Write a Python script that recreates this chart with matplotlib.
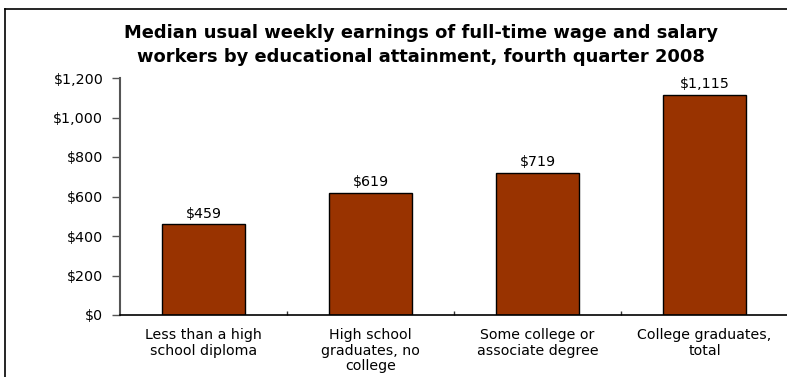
import numpy as np
import matplotlib.pyplot as plt
from matplotlib.lines import Line2D

# data
categories = ['Less than a high\nschool diploma', 'High school\ngraduates, no\ncollege',
              'Some college or\nassociate degree', 'College graduates,\ntotal']
earnings = [459, 619, 719, 1115]
yticks = [0, 200, 400, 600, 800, 1000, 1200]

fig = plt.figure(figsize=(7.87, 3.77), dpi=100)
ax = fig.add_axes([120/787, 62/377, 668/787, 237/377])

x = np.arange(len(categories))
ax.bar(x, earnings, width=0.5, color='#993300', edgecolor='black', linewidth=1)

for xi, v in zip(x, earnings):
    ax.text(xi, v + 18, '${:,}'.format(v), ha='center', va='bottom', fontsize=10.3,
            color='black', family='DejaVu Sans')

ax.set_xlim(-0.5, 3.5)
ax.set_ylim(0, 1200)
ax.set_yticks(yticks)
ax.set_yticklabels(['${:,}'.format(t) for t in yticks], fontsize=10.3, family='DejaVu Sans')
ax.tick_params(axis='y', direction='out', length=6, width=1, color='#555555', pad=6)

# category boundaries get the small inward ticks, labels sit at bar centres
ax.set_xticks(x[:-1] + 0.5)
ax.set_xticklabels([])
ax.tick_params(axis='x', direction='in', length=3, width=1, color='#333333')
for xi, lab in zip(x, categories):
    ax.text(xi, -68, lab, ha='center', va='top', fontsize=10.2, family='DejaVu Sans',
            linespacing=1.12)

for s in ['top', 'right']:
    ax.spines[s].set_visible(False)
ax.spines['left'].set_color('#555555')
ax.spines['left'].set_linewidth(1.5)
ax.spines['bottom'].set_color('black')
ax.spines['bottom'].set_linewidth(1.2)

fig.text(421/787, 1 - 33/377, 'Median usual weekly earnings of full-time wage and salary',
         ha='center', va='center', fontsize=12.9, fontweight='bold', family='DejaVu Sans')
fig.text(421/787, 1 - 57/377, 'workers by educational attainment, fourth quarter 2008',
         ha='center', va='center', fontsize=12.9, fontweight='bold', family='DejaVu Sans')

# frame lines at top and left
fig.add_artist(Line2D([5/787, 1], [1 - 9/377, 1 - 9/377], color='black', lw=1.2,
                      transform=fig.transFigure))
fig.add_artist(Line2D([5/787, 5/787], [0, 1 - 9/377], color='black', lw=1.2,
                      transform=fig.transFigure))

fig.savefig('out.png', dpi=100)
